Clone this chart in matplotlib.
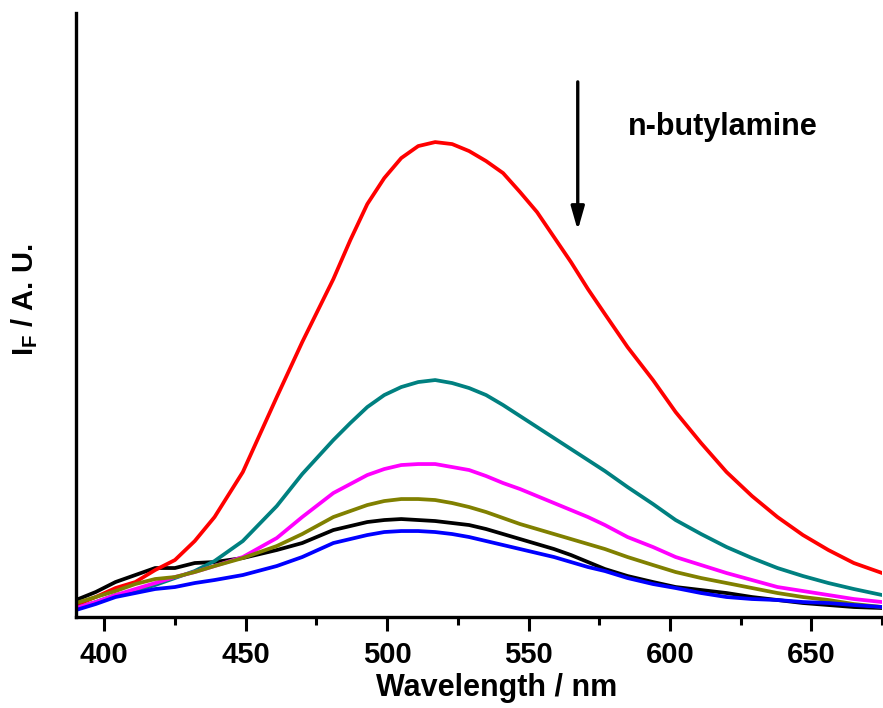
import matplotlib
matplotlib.use('Agg')
from matplotlib import pyplot as plt

# wavelengths (nm)
wavelength = [390, 397, 404, 411, 418, 425, 432, 439, 449, 461, 470, 481,
              487, 493, 499, 505, 511, 517, 523, 529, 535, 541, 547, 553,
              559, 565, 571, 577, 585, 594, 602, 611, 620, 629, 638, 647,
              656, 665, 675]

# fluorescence intensity, arbitrary units
red = [12, 20, 29, 35, 47, 57, 76, 100, 145, 220, 275, 338,
       377, 413, 439, 459, 471, 475, 473, 466, 456, 444, 425, 405,
       380, 355, 328, 303, 270, 237, 205, 174, 145, 121, 100, 82,
       67, 54, 44]
teal = [9, 15, 22, 26, 32, 39, 46, 56, 76, 111, 143, 177,
        194, 210, 222, 230, 235, 237, 234, 229, 222, 212, 201, 190,
        179, 168, 157, 146, 130, 113, 97, 83, 70, 59, 49, 41,
        34, 28, 22]
magenta = [9, 15, 22, 28, 34, 40, 45, 51, 60, 79, 100, 124,
           133, 142, 148, 152, 153, 153, 150, 147, 141, 134, 128, 121,
           114, 107, 100, 92, 80, 70, 60, 52, 44, 37, 30, 26,
           22, 18, 15]
olive = [14, 20, 26, 33, 38, 40, 45, 51, 59, 71, 83, 100,
         106, 112, 116, 118, 118, 117, 114, 110, 105, 99, 93, 88,
         83, 78, 73, 68, 60, 52, 45, 39, 34, 29, 24, 20,
         17, 13, 10]
black = [17, 25, 35, 42, 49, 49, 54, 55, 59, 67, 74, 87,
         91, 95, 97, 98, 97, 96, 94, 92, 88, 83, 78, 73,
         68, 62, 55, 48, 41, 35, 30, 27, 24, 20, 17, 14,
         12, 10, 9]
blue = [7, 13, 20, 24, 28, 30, 34, 37, 42, 51, 60, 74,
        78, 82, 85, 86, 86, 85, 83, 80, 76, 72, 68, 64,
        60, 55, 50, 46, 39, 33, 29, 24, 20, 18, 17, 15,
        14, 12, 10]


def draw_plot():
    plt.rcParams['font.family'] = ['Liberation Sans', 'DejaVu Sans']
    plt.rcParams['font.weight'] = 'bold'
    plt.rcParams['mathtext.fontset'] = 'custom'
    plt.rcParams['mathtext.bf'] = 'Liberation Sans:bold'
    plt.rcParams['mathtext.rm'] = 'Liberation Sans:bold'

    fig = plt.figure(figsize=(8.83, 7.08), dpi=100)
    ax = fig.add_axes([0.086, 0.1285, 0.913, 0.853])

    series = [(black, 'black'), (red, '#ff0000'), (teal, '#008080'),
              (magenta, '#ff00ff'), (olive, '#808000'), (blue, '#0000ff')]
    for values, color in series:
        ax.plot(wavelength, values, color=color, linewidth=2.7,
                solid_joinstyle='round')

    ax.set_xlim(390, 675)
    ax.set_ylim(0, 604)

    ax.spines['top'].set_visible(False)
    ax.spines['right'].set_visible(False)
    ax.spines['left'].set_linewidth(2.4)
    ax.spines['bottom'].set_linewidth(2.4)

    ax.set_xticks([400, 450, 500, 550, 600, 650])
    ax.set_xticks([425, 475, 525, 575, 625, 675], minor=True)
    ax.set_yticks([])
    ax.tick_params(axis='x', which='major', length=10, width=2.2,
                   labelsize=21, pad=7)
    ax.tick_params(axis='x', which='minor', length=6, width=2.2)
    for lab in ax.get_xticklabels():
        lab.set_fontweight('bold')

    ax.set_xlabel('Wavelength / nm', fontsize=22, fontweight='bold')
    ax.xaxis.set_label_coords(0.522, -0.092)
    ax.set_ylabel(r'$\mathbf{I_F}$ / A. U.', fontsize=21, fontweight='bold')
    ax.yaxis.set_label_coords(-0.044, 0.525)

    ax.annotate('', xy=(567.4, 384), xytext=(567.4, 538),
                arrowprops=dict(arrowstyle='-|>,head_width=0.4,head_length=1.4',
                                color='black', lw=2.4))
    ax.text(585, 490, 'n-butylamine', fontsize=22, fontweight='bold',
            va='center', ha='left')

    plt.savefig('out.png', dpi=100)


draw_plot()
